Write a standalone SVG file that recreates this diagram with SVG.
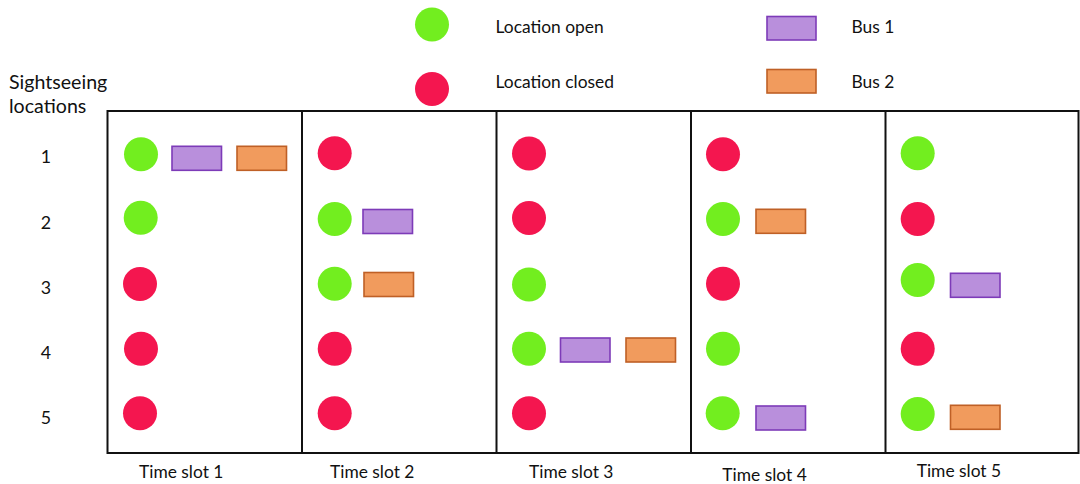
<svg xmlns="http://www.w3.org/2000/svg" width="1080" height="484" viewBox="0 0 1080 484">
  <style>
    text { font-family: Lato, "Open Sans", "Liberation Sans", sans-serif; fill: #111; }
    .lbl { font-size: 17.4px; }
    .axis { font-size: 19.6px; }
    .row { font-size: 17.8px; text-anchor: middle; }
    .open { fill: #72EE1F; }
    .closed { fill: #F4164F; }
    .bus1 { fill: #B98FDC; stroke: #7D3BB8; stroke-width: 1.6; }
    .bus2 { fill: #F19B5D; stroke: #BF6026; stroke-width: 1.6; }
    .frame { fill: none; stroke: #111; stroke-width: 2; }
  </style>
  <rect width="1080" height="484" fill="#fff"/>

  <!-- legend -->
  <g id="legend">
    <circle class="open" cx="432" cy="24.5" r="17"/>
    <text class="lbl" x="495.5" y="33">Location open</text>
    <circle class="closed" cx="432" cy="89" r="17"/>
    <text class="lbl" x="495.5" y="88">Location closed</text>
    <rect class="bus1" x="767" y="16.5" width="49" height="23.5"/>
    <text class="lbl" x="851.5" y="33">Bus 1</text>
    <rect class="bus2" x="767" y="69.5" width="49" height="23.5"/>
    <text class="lbl" x="851.5" y="88">Bus 2</text>
  </g>

  <!-- location axis -->
  <g id="axis">
    <text class="axis" x="9" y="88.5">Sightseeing</text>
    <text class="axis" x="9" y="112.5">locations</text>
    <text class="row" x="46" y="163">1</text>
    <text class="row" x="46" y="228.5">2</text>
    <text class="row" x="46" y="293.5">3</text>
    <text class="row" x="46" y="359">4</text>
    <text class="row" x="46" y="423.5">5</text>
  </g>

  <!-- grid frame and slot dividers -->
  <g id="frame">
    <rect class="frame" x="107.5" y="111" width="971" height="342"/>
    <line class="frame" x1="302" y1="111" x2="302" y2="453"/>
    <line class="frame" x1="496.5" y1="111" x2="496.5" y2="453"/>
    <line class="frame" x1="691" y1="111" x2="691" y2="453"/>
    <line class="frame" x1="885.5" y1="111" x2="885.5" y2="453"/>
  </g>

  <!-- time slot 1 -->
  <g id="slot1">
    <circle class="open" cx="141" cy="154.3" r="17"/>
    <rect class="bus1" x="172" y="146.3" width="49.5" height="24"/>
    <rect class="bus2" x="237" y="146.3" width="49.5" height="24"/>
    <circle class="open" cx="140.7" cy="217.7" r="17"/>
    <circle class="closed" cx="140" cy="284" r="17"/>
    <circle class="closed" cx="141" cy="348.7" r="17"/>
    <circle class="closed" cx="140" cy="413.3" r="17"/>
    <text class="lbl" x="139" y="478">Time slot 1</text>
  </g>

  <!-- time slot 2 -->
  <g id="slot2">
    <circle class="closed" cx="334.7" cy="153.3" r="17"/>
    <circle class="open" cx="334.7" cy="219" r="17"/>
    <rect class="bus1" x="363" y="209.5" width="49.5" height="24"/>
    <circle class="open" cx="334.7" cy="283.7" r="17"/>
    <rect class="bus2" x="364" y="272.5" width="49.5" height="24"/>
    <circle class="closed" cx="334.7" cy="348.7" r="17"/>
    <circle class="closed" cx="334.7" cy="413.3" r="17"/>
    <text class="lbl" x="330" y="478">Time slot 2</text>
  </g>

  <!-- time slot 3 -->
  <g id="slot3">
    <circle class="closed" cx="529" cy="153.5" r="17"/>
    <circle class="closed" cx="529" cy="218" r="17"/>
    <circle class="open" cx="529" cy="284.5" r="17"/>
    <circle class="open" cx="529" cy="348.7" r="17"/>
    <rect class="bus1" x="560.5" y="338" width="49.5" height="24"/>
    <rect class="bus2" x="626" y="338" width="49.5" height="24"/>
    <circle class="closed" cx="529" cy="413.3" r="17"/>
    <text class="lbl" x="529" y="478">Time slot 3</text>
  </g>

  <!-- time slot 4 -->
  <g id="slot4">
    <circle class="closed" cx="723" cy="154.3" r="17"/>
    <circle class="open" cx="723" cy="219" r="17"/>
    <rect class="bus2" x="756" y="209.3" width="49.5" height="24"/>
    <circle class="closed" cx="723" cy="283.7" r="17"/>
    <circle class="open" cx="723" cy="348.7" r="17"/>
    <circle class="open" cx="722.7" cy="413.3" r="17"/>
    <rect class="bus1" x="756" y="406" width="49.5" height="24"/>
    <text class="lbl" x="722.3" y="480.5">Time slot 4</text>
  </g>

  <!-- time slot 5 -->
  <g id="slot5">
    <circle class="open" cx="917.7" cy="153.3" r="17"/>
    <circle class="closed" cx="917.7" cy="219" r="17"/>
    <circle class="open" cx="917.7" cy="280" r="17"/>
    <rect class="bus1" x="950.5" y="273.3" width="49.5" height="24"/>
    <circle class="closed" cx="917.7" cy="348.7" r="17"/>
    <circle class="open" cx="917.7" cy="414" r="17"/>
    <rect class="bus2" x="950.5" y="405.3" width="49.5" height="24"/>
    <text class="lbl" x="916.7" y="477">Time slot 5</text>
  </g>
</svg>
